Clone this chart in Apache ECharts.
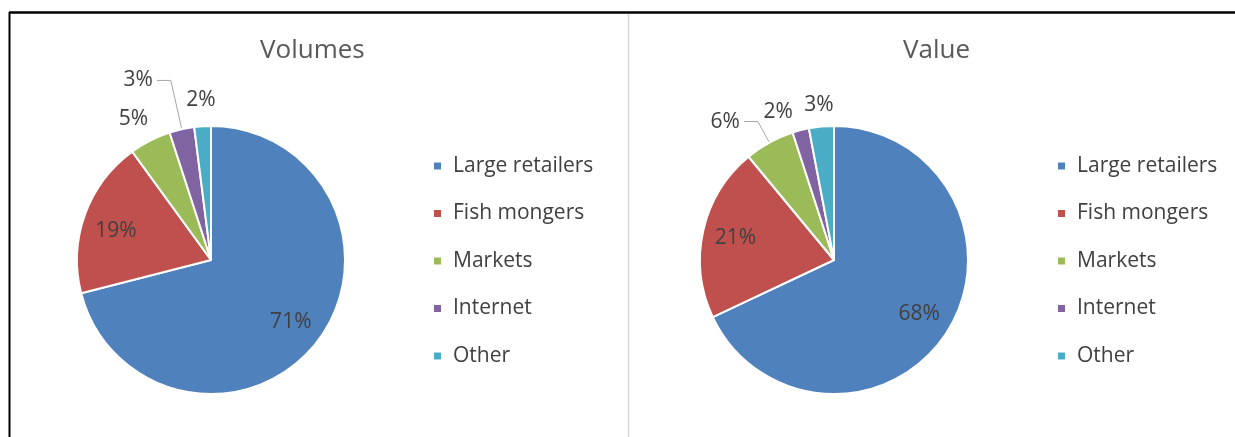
<!DOCTYPE html>
<html>
<head>
<meta charset="utf-8">
<script src="https://cdn.jsdelivr.net/npm/echarts@6/dist/echarts.min.js"></script>
<style>
  html, body { margin: 0; padding: 0; background: #fff; }
  #chart { width: 1235px; height: 437px; }
</style>
</head>
<body>
<div id="chart"></div>
<script>
const categories = ['Large retailers', 'Fish mongers', 'Markets', 'Internet', 'Other'];
const volumeValues = [71, 19, 5, 3, 2];
const valueValues = [68, 21, 6, 2, 3];
const titles = ['Volumes', 'Value'];

const colors = ['#4f81bd', '#c0504d', '#9bbb59', '#8064a2', '#4bacc6'];
const FONT = '"Open Sans", sans-serif';
const R = 134;

const labelFont = { fontFamily: FONT, fontSize: 21, color: '#404040' };

// places: 'in' = inside slice, 'out' = just outside, 'line' = outside with leader line
// nudge: small [dx, dy] shift for crowded outside labels
function pieSeries(name, values, center, places, line, nudge) {
  const main = {
    name: name,
    type: 'pie',
    center: center,
    radius: R,
    startAngle: 90,
    clockwise: true,
    avoidLabelOverlap: false,
    animation: false,
    itemStyle: { borderColor: '#fff', borderWidth: 2 },
    label: { show: false },
    labelLine: { show: false },
    emphasis: { disabled: true },
    data: values.map((v, i) => {
      const d = { name: categories[i], value: v, itemStyle: { color: colors[i] } };
      if (places[i] === 'line') {
        d.label = Object.assign({ show: true, position: 'outside', formatter: '{c}%', distanceToLabelLine: 4 }, labelFont);
        d.labelLine = { show: true, length: line[0], length2: line[1], smooth: false, lineStyle: { color: '#a6a6a6', width: 1 } };
      }
      return d;
    })
  };
  // transparent rings only used to place the labels
  const ring = (radius, which) => ({
    name: name,
    type: 'pie',
    center: center,
    radius: radius,
    startAngle: 90,
    clockwise: true,
    silent: true,
    animation: false,
    avoidLabelOverlap: false,
    itemStyle: { color: 'rgba(0,0,0,0)', borderWidth: 0 },
    labelLine: { show: false },
    label: Object.assign({ show: false, position: 'inside', formatter: '{c}%' }, labelFont),
    labelLayout: (p) => {
      const n = nudge[p.dataIndex];
      return n ? { dx: n[0], dy: n[1] } : {};
    },
    data: values.map((v, i) => ({
      name: categories[i], value: v,
      label: { show: places[i] === which }
    }))
  });
  return [main, ring([62, R], 'in'), ring([R, 180], 'out')];
}

const legendBase = {
  orient: 'vertical',
  top: 148,
  itemWidth: 9,
  itemHeight: 9,
  itemGap: 21.5,
  icon: 'rect',
  selectedMode: false,
  data: categories,
  textStyle: { fontFamily: FONT, fontSize: 21, color: '#404040', lineHeight: 26, padding: [0, 0, 0, 6] }
};

const titleStyle = { fontFamily: FONT, fontSize: 26, fontWeight: 'normal', color: '#595959' };

const chart = echarts.init(document.getElementById('chart'));
chart.setOption({
  backgroundColor: '#fff',
  animation: false,
  title: [
    { text: titles[0], left: 255, top: 33, textStyle: titleStyle },
    { text: titles[1], left: 898, top: 33, textStyle: titleStyle }
  ],
  legend: [
    Object.assign({ left: 427 }, legendBase),
    Object.assign({ left: 1051 }, legendBase)
  ],
  graphic: [
    { type: 'line', shape: { x1: 9, y1: 12.5, x2: 1235, y2: 12.5 }, style: { stroke: '#000', lineWidth: 2.5 } },
    { type: 'line', shape: { x1: 9.5, y1: 12, x2: 9.5, y2: 437 }, style: { stroke: '#000', lineWidth: 2 } },
    { type: 'line', shape: { x1: 628.5, y1: 14, x2: 628.5, y2: 437 }, style: { stroke: '#d9d9d9', lineWidth: 1.5 } }
  ],
  series: [].concat(
    pieSeries(titles[0], volumeValues, [211, 260], ['in', 'in', 'out', 'line', 'out'], [50, 14], [null, [0, 5], [-5, 2], null, null]),
    pieSeries(titles[1], valueValues, [834, 260], ['in', 'in', 'line', 'out', 'out'], [24, 14], [null, null, null, [-16, 7], [0, 4]])
  )
});
</script>
</body>
</html>
